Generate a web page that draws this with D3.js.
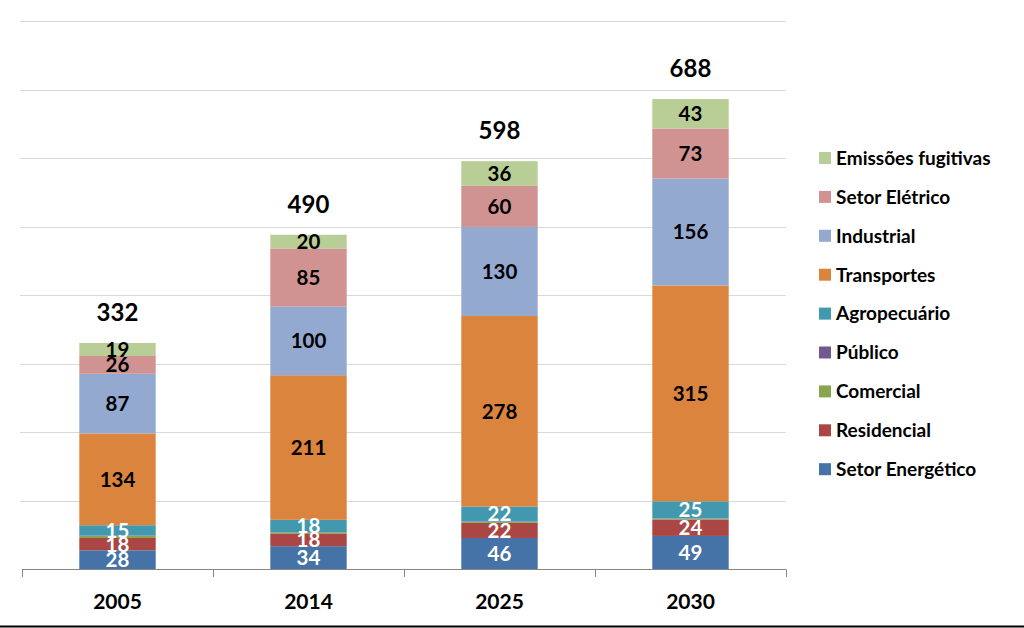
<!DOCTYPE html>
<html><head><meta charset="utf-8">
<script src="https://cdn.jsdelivr.net/npm/d3@7"></script>
<style>body{margin:0;background:#fff}svg{display:block}</style>
</head><body>
<svg id="c" width="1024" height="628"></svg>
<script>
const categories = ["2005", "2014", "2025", "2030"];
const totals = [332, 490, 598, 688];
const setorEnergetico = [28, 34, 46, 49];
const residencial = [18, 18, 22, 24];
const comercial = [3, 2, 1.5, 1.2];
const publico = [0.6, 0.5, 0.4, 0.3];
const agropecuario = [15, 18, 22, 25];
const transportes = [134, 211, 278, 315];
const industrial = [87, 100, 130, 156];
const setorEletrico = [26, 85, 60, 73];
const emissoesFugitivas = [19, 20, 36, 43];
const yTicks = [0, 100, 200, 300, 400, 500, 600, 700, 800];

const series = [
  {name: "Setor Energético", values: setorEnergetico, color: "#4572A7", label: true, txt: "#fff"},
  {name: "Residencial", values: residencial, color: "#AA4643", label: true, txt: "#fff"},
  {name: "Comercial", values: comercial, color: "#89A54E", label: false},
  {name: "Público", values: publico, color: "#71588F", label: false},
  {name: "Agropecuário", values: agropecuario, color: "#4198AF", label: true, txt: "#fff"},
  {name: "Transportes", values: transportes, color: "#DB843D", label: true, txt: "#000"},
  {name: "Industrial", values: industrial, color: "#93A9CF", label: true, txt: "#000"},
  {name: "Setor Elétrico", values: setorEletrico, color: "#D19392", label: true, txt: "#000"},
  {name: "Emissões fugitivas", values: emissoesFugitivas, color: "#B9CD96", label: true, txt: "#000"}
];

const svg = d3.select("#c");
const font = "Lato, 'Open Sans', sans-serif";
const x = d3.scaleBand().domain(categories).range([22, 786]).paddingInner(0.6).paddingOuter(0.3);
const y = d3.scaleLinear().domain([0, 800]).range([569.5, 21.3]);

// gridlines
svg.append("g").selectAll("line").data(yTicks.slice(1)).join("line")
  .attr("x1", 20).attr("x2", 786)
  .attr("y1", d => Math.round(y(d)) + 0.5).attr("y2", d => Math.round(y(d)) + 0.5)
  .attr("stroke", "#d9d9d9").attr("stroke-width", 1);

const table = categories.map((c, i) => {
  const o = {cat: c};
  series.forEach(s => o[s.name] = s.values[i]);
  return o;
});
const stack = d3.stack().keys(series.map(s => s.name))(table);

const g = svg.append("g");
stack.forEach((layer, si) => {
  const s = series[si];
  g.append("g").selectAll("rect").data(layer).join("rect")
    .attr("x", d => x(d.data.cat))
    .attr("width", x.bandwidth())
    .attr("y", d => y(d[1]))
    .attr("height", d => y(d[0]) - y(d[1]))
    .attr("fill", s.color);
});
stack.forEach((layer, si) => {
  const s = series[si];
  if (!s.label) return;
  g.append("g").selectAll("text").data(layer).join("text")
    .attr("x", d => x(d.data.cat) + x.bandwidth() / 2)
    .attr("y", d => (y(d[0]) + y(d[1])) / 2)
    .attr("dy", "0.36em")
    .attr("text-anchor", "middle")
    .attr("font-family", font).attr("font-weight", "bold").attr("font-size", 20.5)
    .attr("fill", s.txt)
    .text((d, i) => s.values[i]);
});

// totals
svg.append("g").selectAll("text").data(categories).join("text")
  .attr("x", d => x(d) + x.bandwidth() / 2)
  .attr("y", (d, i) => y(totals[i]) - 21)
  .attr("text-anchor", "middle")
  .attr("font-family", font).attr("font-weight", "bold").attr("font-size", 24)
  .attr("fill", "#000")
  .text((d, i) => totals[i]);

// x axis
const ax = svg.append("g");
ax.append("line").attr("x1", 22).attr("x2", 786).attr("y1", 569.5).attr("y2", 569.5).attr("stroke", "#868686");
const tickXs = d3.range(categories.length + 1).map(i => 22 + i * (786 - 22) / categories.length);
ax.selectAll("line.t").data(tickXs).join("line").attr("class", "t")
  .attr("x1", d => Math.round(d) + 0.5).attr("x2", d => Math.round(d) + 0.5)
  .attr("y1", 569.5).attr("y2", 577).attr("stroke", "#868686");
ax.selectAll("text").data(categories).join("text")
  .attr("x", d => x(d) + x.bandwidth() / 2)
  .attr("y", 609)
  .attr("text-anchor", "middle")
  .attr("font-family", font).attr("font-weight", "bold").attr("font-size", 21)
  .attr("fill", "#000").text(d => d);

// legend
const leg = svg.append("g");
const legItems = series.slice().reverse();
legItems.forEach((s, i) => {
  const cy = 158 + i * 38.9;
  leg.append("rect").attr("x", 819).attr("y", cy - 6).attr("width", 12).attr("height", 12).attr("fill", s.color);
  leg.append("text").attr("x", 836).attr("y", cy).attr("dy", "0.36em")
    .attr("font-family", font).attr("font-weight", "bold").attr("font-size", 19)
    .attr("fill", "#000").text(s.name);
});

// bottom border
svg.append("line").attr("x1", 0).attr("x2", 1024).attr("y1", 626.5).attr("y2", 626.5).attr("stroke", "#000").attr("stroke-width", 2);
</script>
</body></html>
